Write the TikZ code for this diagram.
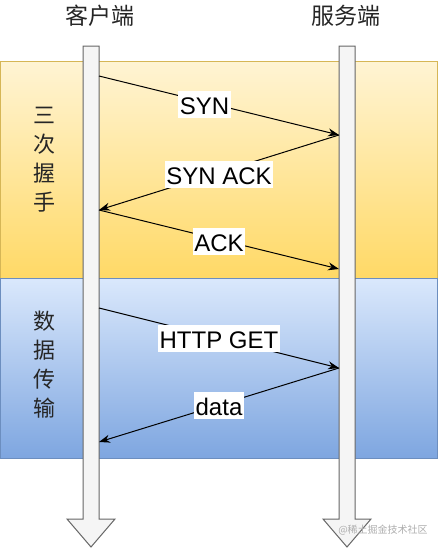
\documentclass[tikz,border=0pt]{standalone}
\usepackage{fontspec}
\setmainfont{Liberation Sans}
\newfontfamily\cjk{Noto Sans CJK SC}
\usepackage{xcolor}
\usetikzlibrary{arrows.meta}

\definecolor{hsTop}{HTML}{FFF4D4}
\definecolor{hsBottom}{HTML}{FFD966}
\definecolor{hsLine}{HTML}{D6B656}
\definecolor{dtTop}{HTML}{DAE8FC}
\definecolor{dtBottom}{HTML}{7EA6E0}
\definecolor{dtLine}{HTML}{6C8EBF}
\definecolor{lifeFill}{HTML}{F5F5F5}
\definecolor{lifeLine}{HTML}{666666}

\begin{document}
\begin{tikzpicture}[x=1pt,y=1pt,yscale=-1,
    msg/.style={draw=black, line width=1pt, -{Stealth[length=11pt,width=8pt]}},
    msglabel/.style={fill=white, inner sep=1.5pt, text height=22pt, text depth=2pt, font=\fontsize{24}{28}\selectfont},
    lifeline/.style={fill=lifeFill, draw=lifeLine, line width=1pt, line join=miter},
    sidelabel/.style={align=center, inner sep=0pt, text=black!85, font=\cjk\fontsize{22}{29}\selectfont},
    headlabel/.style={inner sep=0pt, text=black!85, font=\cjk\fontsize{23}{26}\selectfont}]
\useasboundingbox (0,0) rectangle (437,549);

%Shape: Rectangle [three-way handshake band]
\draw [hsLine, top color=hsTop, bottom color=hsBottom] (0,61) rectangle (437,278);
%Shape: Rectangle [data transfer band]
\draw [dtLine, top color=dtTop, bottom color=dtBottom] (0,278) rectangle (437,458);

%Shape: Down Arrow [client]
\draw [lifeline] (83,46) -- (99,46) -- (99,519) -- (115,519) -- (91,547) -- (67,519) -- (83,519) -- cycle;
%Shape: Down Arrow [server]
\draw [lifeline] (339,46) -- (355,46) -- (355,519) -- (371,519) -- (347,547) -- (323,519) -- (339,519) -- cycle;

% Text Node
\node [headlabel] (client) at (100,16) {客户端};
% Text Node
\node [headlabel] (server) at (346,16) {服务端};
% Text Node
\node [sidelabel] (handshake) at (45,160) {三\\次\\握\\手};
% Text Node
\node [sidelabel] (transfer) at (45,365) {数\\据\\传\\输};

% message end points
\coordinate (cSyn) at (99,76);
\coordinate (sSyn) at (339,135);
\coordinate (cSynAck) at (99,210);
\coordinate (sAck) at (339,269);
\coordinate (cGet) at (99,308);
\coordinate (sGet) at (339,368);
\coordinate (cData) at (99,442);

%Straight Lines [messages]
\draw [msg] (cSyn) -- (sSyn) node [msglabel, pos=0.44, yshift=-3pt] (syn) {SYN};
\draw [msg] (sSyn) -- (cSynAck) node [msglabel, midway, yshift=-2pt] (synack) {SYN ACK};
\draw [msg] (cSynAck) -- (sAck) node [msglabel, midway, yshift=-1.5pt] (ack) {ACK};
\draw [msg] (cGet) -- (sGet) node [msglabel, midway] (get) {HTTP GET};
\draw [msg] (sGet) -- (cData) node [msglabel, midway] (data) {data};

% Text Node
\node [inner sep=0pt, text=black!32, font=\cjk\fontsize{10}{12}\selectfont] (mark) at (383,530) {@稀土掘金技术社区};
\end{tikzpicture}
\end{document}
